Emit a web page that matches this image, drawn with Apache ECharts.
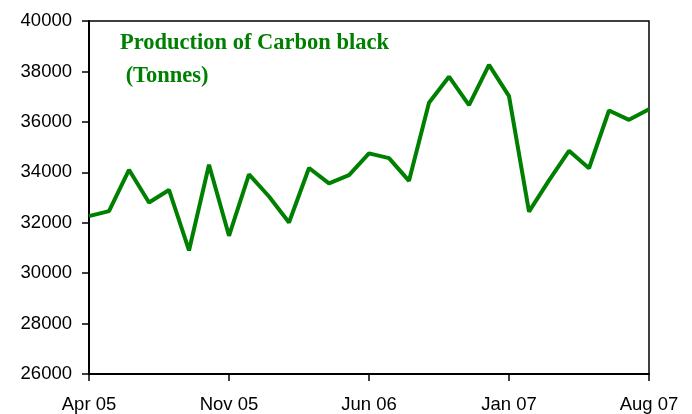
<!DOCTYPE html>
<html><head><meta charset="utf-8">
<script src="https://cdn.jsdelivr.net/npm/echarts@6/dist/echarts.min.js"></script>
<style>html,body{margin:0;padding:0;background:#fff}#c{width:692px;height:414px}</style>
</head><body><div id="c"></div>
<script>
const months = ['Apr 05','May 05','Jun 05','Jul 05','Aug 05','Sep 05','Oct 05','Nov 05','Dec 05','Jan 06','Feb 06','Mar 06','Apr 06','May 06','Jun 06','Jul 06','Aug 06','Sep 06','Oct 06','Nov 06','Dec 06','Jan 07','Feb 07','Mar 07','Apr 07','May 07','Jun 07','Jul 07','Aug 07'];
const production = [32260,32460,34100,32800,33300,30900,34300,31480,33920,33040,32010,34170,33560,33890,34750,34560,33660,36760,37790,36660,38260,37020,32440,33680,34850,34160,36450,36080,36500];
const titleText = 'Production of Carbon black\n (Tonnes)';
const yMin = 26000, yMax = 40000, yStep = 2000;

const chart = echarts.init(document.getElementById('c'));
chart.setOption({
  animation: false,
  title: {
    text: titleText, left: 115, top: 22,
    textStyle: { fontFamily: 'Liberation Serif', fontWeight: 'bold', fontSize: 22.5, color: '#008000', lineHeight: 33 }
  },
  grid: { left: 89, top: 21, right: 43, bottom: 40, show: true, borderColor: '#000', borderWidth: 1.5, containLabel: false },
  xAxis: {
    type: 'category', data: months, boundaryGap: false,
    axisLine: { lineStyle: { color: '#000', width: 2 } },
    axisTick: { interval: 6, length: 7, lineStyle: { color: '#000', width: 1.5 } },
    axisLabel: { interval: 6, margin: 21, color: '#000', fontFamily: 'Liberation Sans', fontSize: 18.5 },
    splitLine: { show: false }
  },
  yAxis: {
    type: 'value', min: yMin, max: yMax, interval: yStep,
    axisLine: { show: true, lineStyle: { color: '#000', width: 2 } },
    axisTick: { show: true, length: 7, lineStyle: { color: '#000', width: 1.5 } },
    axisLabel: { margin: 17, color: '#000', fontFamily: 'Liberation Sans', fontSize: 18.5, formatter: v => String(v) },
    splitLine: { show: false }
  },
  series: [{
    type: 'line', data: production, symbol: 'none',
    lineStyle: { color: '#008000', width: 4 }
  }]
});
</script></body></html>
